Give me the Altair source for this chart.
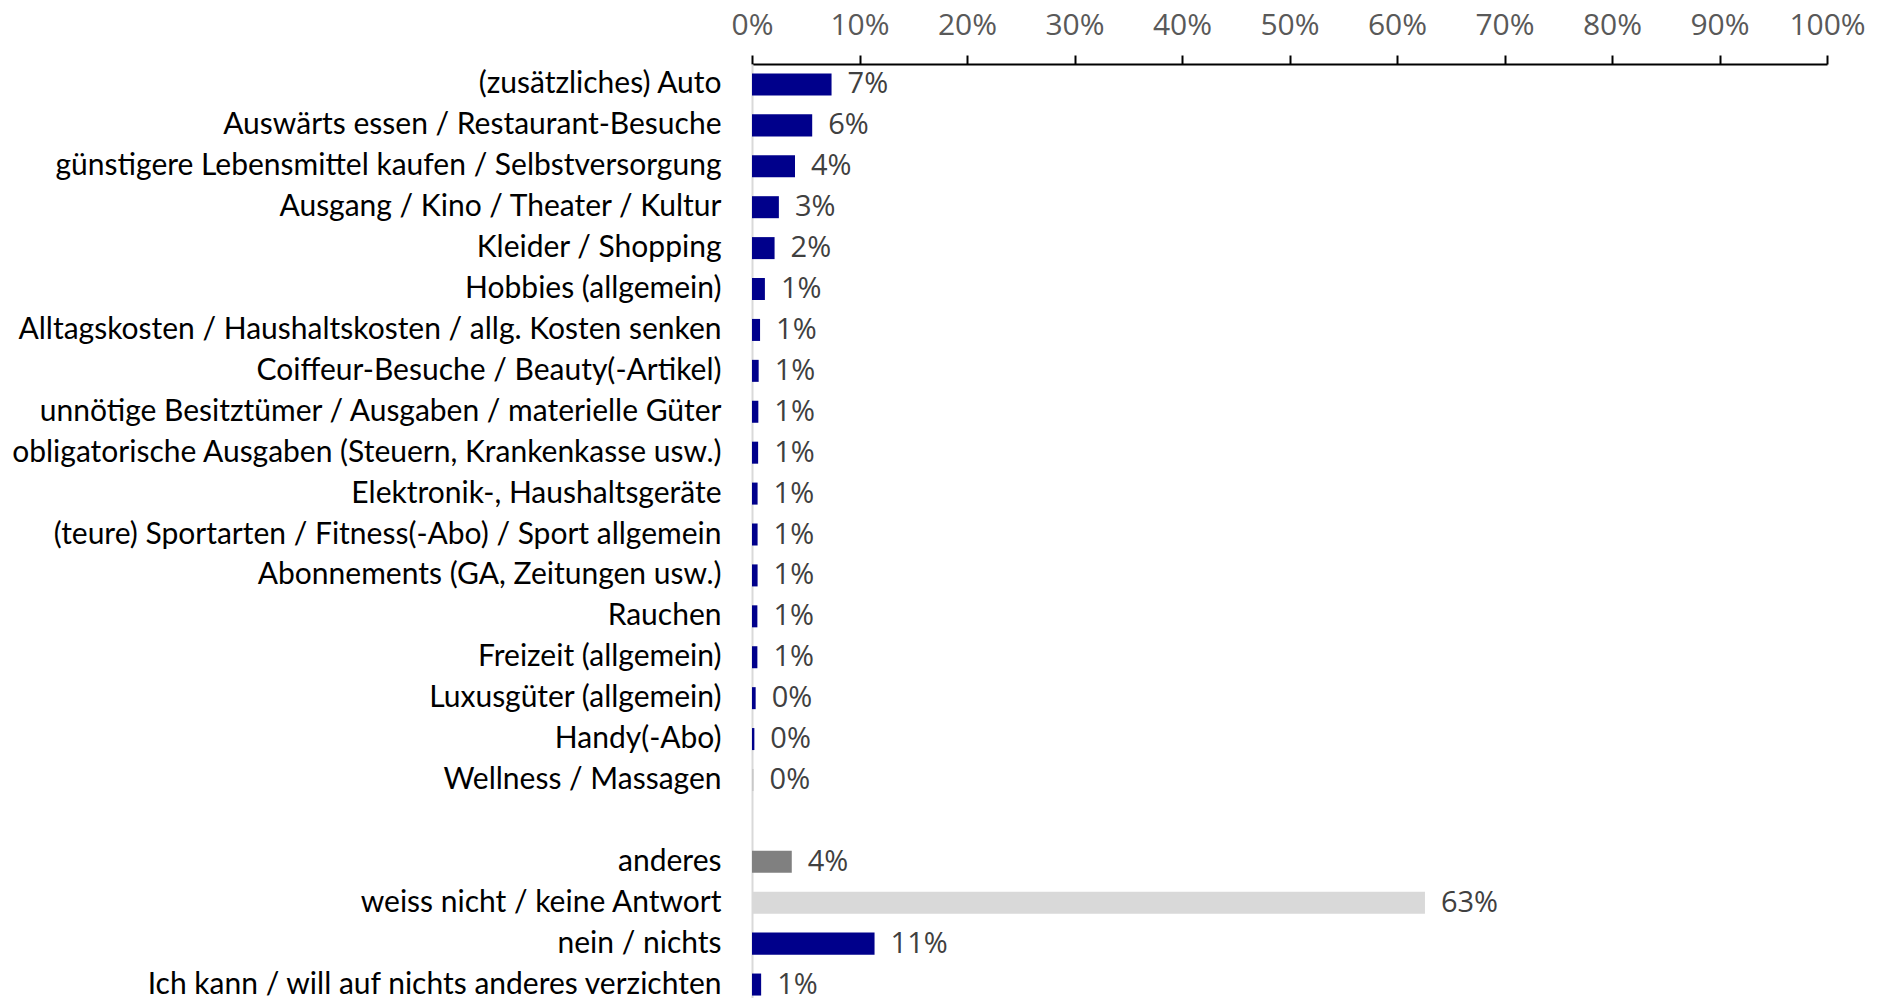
import altair as alt
import pandas as pd

categories = [
    "(zusätzliches) Auto",
    "Auswärts essen / Restaurant-Besuche",
    "günstigere Lebensmittel kaufen / Selbstversorgung",
    "Ausgang / Kino / Theater / Kultur",
    "Kleider / Shopping",
    "Hobbies (allgemein)",
    "Alltagskosten / Haushaltskosten / allg. Kosten senken",
    "Coiffeur-Besuche / Beauty(-Artikel)",
    "unnötige Besitztümer / Ausgaben / materielle Güter",
    "obligatorische Ausgaben (Steuern, Krankenkasse usw.)",
    "Elektronik-, Haushaltsgeräte",
    "(teure) Sportarten / Fitness(-Abo) / Sport allgemein",
    "Abonnements (GA, Zeitungen usw.)",
    "Rauchen",
    "Freizeit (allgemein)",
    "Luxusgüter (allgemein)",
    "Handy(-Abo)",
    "Wellness / Massagen",
    " ",
    "anderes",
    "weiss nicht / keine Antwort",
    "nein / nichts",
    "Ich kann / will auf nichts anderes verzichten",
]

values = [7.4, 5.6, 4.0, 2.5, 2.1, 1.2, 0.75, 0.62, 0.59, 0.57, 0.52, 0.52, 0.52, 0.5, 0.5,
          0.34, 0.22, 0.15, None, 3.7, 62.6, 11.4, 0.85]

labels = ["7%", "6%", "4%", "3%", "2%", "1%", "1%", "1%", "1%", "1%", "1%", "1%", "1%", "1%", "1%",
          "0%", "0%", "0%", None, "4%", "63%", "11%", "1%"]

colors = ["#00008B"] * 17 + ["#C8C8C8", None, "#808080", "#D9D9D9", "#00008B", "#00008B"]

rows = []
for c, v, l, col in zip(categories, values, labels, colors):
    if v is None:
        continue
    rows.append({"cat": c, "val": v / 100.0, "label": l, "color": col})
df = pd.DataFrame(rows)

y_enc = alt.Y(
    "cat:N",
    sort=categories,
    scale=alt.Scale(domain=categories, paddingInner=0.462, paddingOuter=0.231),
    axis=alt.Axis(
        title=None,
        labelFont="Lato",
        labelFontSize=30,
        labelColor="#000000",
        ticks=False,
        tickSize=0,
        labelPadding=31,
        labelLimit=900,
        domainColor="#D9D9D9",
        domainWidth=2,
    ),
)

x_enc = alt.X(
    "val:Q",
    scale=alt.Scale(domain=[0, 1], nice=False),
    axis=alt.Axis(
        orient="top",
        title=None,
        values=[i / 10 for i in range(11)],
        format=".0%",
        labelFont="Open Sans",
        labelFontSize=30,
        labelColor="#595959",
        labelFlush=False,
        domainColor="#000000",
        domainWidth=2,
        tickColor="#000000",
        tickWidth=2,
        tickSize=9,
        labelPadding=15,
        grid=False,
    ),
)

bars = alt.Chart(df).mark_bar().encode(
    x=x_enc,
    y=y_enc,
    color=alt.Color("color:N", scale=None),
)

text = alt.Chart(df).mark_text(
    align="left",
    baseline="middle",
    dx=16,
    font="Open Sans",
    fontSize=29,
    color="#404040",
).encode(
    x=alt.X("val:Q"),
    y=alt.Y("cat:N", sort=categories),
    text="label:N",
)

chart = (
    alt.layer(bars, text)
    .properties(
        width=1075,
        height=941,
        padding={"left": 744, "top": 56, "right": 50, "bottom": 0},
        autosize=alt.AutoSizeParams(type="none"),
        background="white",
    )
    .configure_view(stroke=None)
)

chart.save("out.html", embed_options={"renderer": "svg", "actions": False})
